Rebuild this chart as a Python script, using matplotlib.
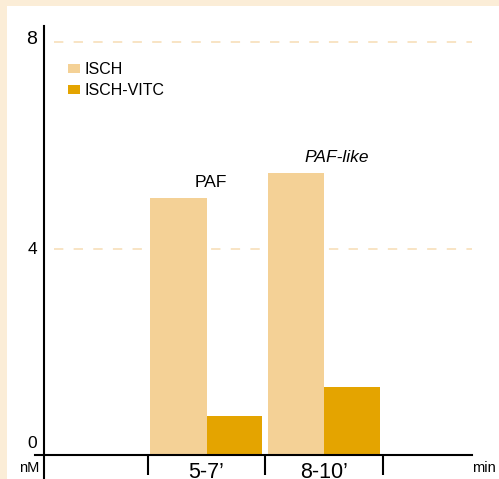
import numpy as np
import matplotlib
matplotlib.use("Agg")
import matplotlib.pyplot as plt
from matplotlib import font_manager
from matplotlib.patches import Rectangle

# Data
groups = ["5-7\u2019", "8-10\u2019"]
series_names = ["ISCH", "ISCH-VITC"]
isch = [4.98, 5.47]
isch_vitc = [0.76, 1.32]
peak_labels = ["PAF", "PAF-like"]
y_ticks = [0, 4, 8]

# Fonts: narrow sans for small labels if available
names = {f.name for f in font_manager.fontManager.ttflist}
narrow = "Liberation Sans Narrow" if "Liberation Sans Narrow" in names else "Liberation Sans"
regular = "Liberation Sans"

col_isch = "#F4D196"
col_vitc = "#E4A400"
beige = "#FBEDD7"
grid_col = "#F8E4C4"

W, H = 499, 479
fig = plt.figure(figsize=(W / 100, H / 100), dpi=100, facecolor=beige)
fig.patches.append(Rectangle((7 / W, 0), 1, 1 - 6 / H, transform=fig.transFigure,
                             facecolor="white", edgecolor="none", zorder=-5))

# axes placed in pixel terms
ax = fig.add_axes([35 / W, 0, (472 - 35) / W, (479 - 26) / H])
ax.set_facecolor("none")
ax.set_zorder(2)
ppu_x = 117.5
ppu_y = 51.6
ax.set_xlim(1 - (206.5 - 35) / ppu_x, 1 + (472 - 206.5) / ppu_x)
ax.set_ylim((455 - 479) / ppu_y, (455 - 26) / ppu_y)

x = np.arange(1, len(groups) + 1)
w = 0.475
b1 = ax.bar(x - w / 2, isch, w + 0.006, color=col_isch, linewidth=0, zorder=3, label=series_names[0])
b2 = ax.bar(x + w / 2, isch_vitc, w, color=col_vitc, linewidth=0, zorder=3.1, label=series_names[1])

# dashed gridlines at 4 and 8
x_grid0 = 1 + (54 - 206.5) / ppu_x
ax.hlines([4, 8], x_grid0, ax.get_xlim()[1], colors=grid_col, linewidth=1.4,
          linestyles=(0, (4.8, 5.3)), zorder=1)

# spines
for s in ["top", "right"]:
    ax.spines[s].set_visible(False)
ax.spines["left"].set_position(("data", 1 + (44 - 206.5) / ppu_x))
ax.spines["bottom"].set_position(("data", 0))
ax.spines["left"].set_linewidth(1.5)
ax.spines["bottom"].set_linewidth(1.5)
ax.spines["left"].set_zorder(4)
ax.spines["bottom"].set_zorder(4)

ax.set_yticks([])
ax.set_xticks([0.5, 1.5, 2.5])
ax.set_xticklabels([])
ax.tick_params(axis="x", which="major", direction="out", length=14.5, width=1.5, color="black")
ax.set_xticks(x, minor=True)
ax.set_xticklabels(groups, minor=True, fontsize=15.5, family=regular)
ax.tick_params(axis="x", which="minor", length=0, pad=5)

# y labels
xl = 1 + (37 - 206.5) / ppu_x
y_label_pos = [0.23, 3.99, 8.05]
y_label_size = [12.5, 12.5, 14]
for v, yp, fs in zip(y_ticks, y_label_pos, y_label_size):
    ax.text(xl, yp, str(v), ha="right", va="center", fontsize=fs, family=regular)

# bar annotations
ax.text(1.038, 5.29, peak_labels[0], ha="center", va="center", fontsize=12.5, family=narrow)
ax.text(2.11, 5.76, peak_labels[1], ha="center", va="center", fontsize=12.5, family=narrow,
        style="italic")

# unit labels
fig.text(39 / W, 1 - 468 / H, "nM", ha="right", va="center", fontsize=10.5, family=regular)
fig.text(472 / W, 1 - 468 / H, "min", ha="left", va="center", fontsize=10.5, family=narrow)

leg = ax.legend(handles=[b1, b2], loc="upper left", bbox_to_anchor=(68 / W, 1 - 62 / H),
                bbox_transform=fig.transFigure, frameon=False, borderpad=0, borderaxespad=0,
                handlelength=0.72, handleheight=0.5, handletextpad=0.3, labelspacing=0.38,
                prop={"family": narrow, "size": 11.5})

fig.savefig("out.png", dpi=100, facecolor=beige)
